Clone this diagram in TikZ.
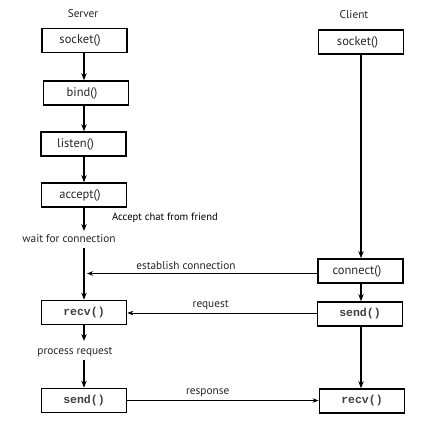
\documentclass[tikz,border=0pt]{standalone}
\usepackage{fontspec}
\setmainfont{PT Sans}
\setmonofont{Liberation Mono}
\usetikzlibrary{arrows.meta}
\begin{document}
\begin{tikzpicture}[x=1pt,y=-1pt,
  box/.style={draw, line width=1.7pt, minimum width=85pt, minimum height=24pt, inner sep=0pt,
    font=\fontsize{12.5}{14}\selectfont, text=black!85},
  mbox/.style={box, font=\ttfamily\bfseries\fontsize{11.5}{13}\selectfont, text=black!75},
  lbl/.style={font=\fontsize{11.3}{13}\selectfont, text=black!85, inner sep=0pt},
  flow/.style={line width=1.6pt, -{Stealth[length=7pt,width=5.5pt]}},
  msg/.style={line width=0.9pt, -{Stealth[length=6pt,width=4.5pt]}}]
\useasboundingbox (0,0) rectangle (428,440);
% Server side
\node[lbl] (srv) at (83,14) {Server};
\node[box] (s1) at (84.5,40.5) {socket()\hspace*{9pt}};
\node[box] (s2) at (86,93) {bind()\hspace*{8pt}};
\node[box] (s3) at (83.5,144) {listen()\hspace*{16pt}};
\node[box] (s4) at (84,195) {accept()\hspace*{8pt}};
\node[lbl, font=\fontsize{10.6}{12}\selectfont, text=black] (acc) at (165,218) {Accept chat from friend};
\node[lbl] (wait) at (69,238.5) {wait for connection};
\coordinate (w1) at (84,231);
\coordinate (w2) at (84,248);
\node[mbox] (s5) at (84,312.5) {recv()};
\node[lbl] (proc) at (75,352) {process request};
\coordinate (p1) at (84,341);
\coordinate (p2) at (84,360);
\node[mbox] (s6) at (84,400.5) {send()};
% Client side
\node[lbl] (cli) at (354,15) {Client};
\node[box] (c1) at (361,42) {socket()\hspace*{7pt}};
\node[box] (c2) at (360.5,271) {connect()\hspace*{7pt}};
\node[mbox] (c3) at (360,314) {send()};
\node[mbox] (c4) at (362,401) {recv()};
\coordinate (e1) at (87,273.5);
% server flow (vertical line at x=84)
\draw[flow] (s1.south -| w1) -- (s2.north -| w1);
\draw[flow] (s2.south -| w1) -- (s3.north -| w1);
\draw[flow] (s3.south -| w1) -- (s4.north -| w1);
\draw[flow] (s4.south -| w1) -- (w1);
\draw[flow] (w2) -- (s5.north -| w2);
\draw[flow] (s5.south -| p1) -- (p1);
\draw[flow] (p2) -- (s6.north -| p2);
% client flow
\draw[flow] (c1.south -| 361,0) -- (c2.north -| 361,0);
\draw[flow] (c2.south -| 361,0) -- (c3.north -| 361,0);
\draw[flow] (c3.south -| 361,0) -- (c4.north -| 361,0);
% messages
\draw[msg] (c2.west |- e1) -- node[lbl, above=3pt, pos=0.57] (lest) {establish connection} (e1);
\draw[msg] (c3.west |- 0,313) -- node[lbl, above=3pt, pos=0.56] (lreq) {request} (s5.east |- 0,313);
\draw[msg, line width=1.5pt] (s6.east |- 0,400.5) -- node[lbl, above=3pt, pos=0.42] (lres) {response} (c4.west |- 0,400.5);
\end{tikzpicture}
\end{document}
